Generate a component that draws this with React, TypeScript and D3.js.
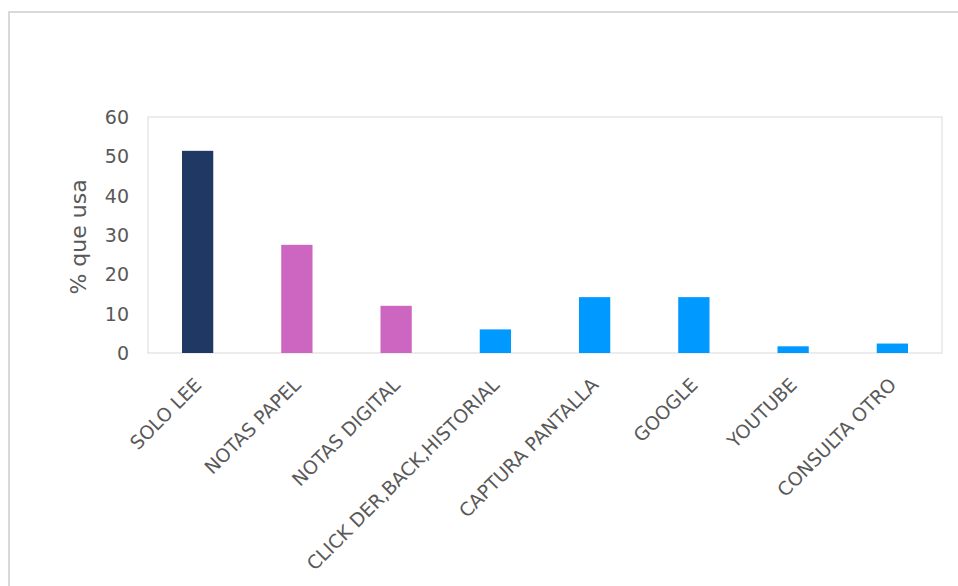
import React from "react";
import * as d3 from "d3";

const categories = [
  "SOLO LEE",
  "NOTAS PAPEL",
  "NOTAS DIGITAL",
  "CLICK DER,BACK,HISTORIAL",
  "CAPTURA PANTALLA",
  "GOOGLE",
  "YOUTUBE",
  "CONSULTA OTRO",
];
const values = [51.4, 27.5, 12, 6, 14.2, 14.2, 1.7, 2.4];
const barColors = ["#203864", "#CC66C0", "#CC66C0", "#0099FF", "#0099FF", "#0099FF", "#0099FF", "#0099FF"];
const yTicks = [0, 10, 20, 30, 40, 50, 60];
const yTitle = "% que usa";

const W = 958;
const H = 586;
const plot = { left: 148, right: 942, top: 117, bottom: 353 };
const FONT = "'DejaVu Sans', sans-serif";
const TEXT = "#595959";

export default function App() {
  const x = d3
    .scaleBand<string>()
    .domain(categories)
    .range([plot.left, plot.right])
    .paddingInner(0.685)
    .paddingOuter(0.3425);
  const y = d3.scaleLinear().domain([0, 60]).range([plot.bottom, plot.top]);

  return (
    <svg
      width={W}
      height={H}
      style={{ position: "fixed", left: 0, top: 0, background: "#fff" }}
    >
      <rect x={0} y={0} width={W} height={H} fill="#fff" />
      <rect x={9} y={12} width={1200} height={1000} fill="#fff" stroke="#d9d9d9" strokeWidth={2} />
      <rect
        x={plot.left}
        y={plot.top}
        width={plot.right - plot.left}
        height={plot.bottom - plot.top}
        fill="none"
        stroke="#d9d9d9"
        strokeWidth={1}
      />
      {categories.map((c, i) => (
        <rect
          key={c}
          x={x(c)!}
          y={y(values[i])}
          width={x.bandwidth()}
          height={y(0) - y(values[i])}
          fill={barColors[i]}
        />
      ))}
      {yTicks.map((t) => (
        <text
          key={t}
          x={129}
          y={y(t)}
          dy="0.36em"
          textAnchor="end"
          fontFamily={FONT}
          fontSize={19}
          fill={TEXT}
        >
          {t}
        </text>
      ))}
      <text
        transform={`translate(86, ${(plot.top + plot.bottom) / 2 + 2}) rotate(-90)`}
        textAnchor="middle"
        fontFamily={FONT}
        fontSize={22}
        fill={TEXT}
      >
        {yTitle}
      </text>
      {categories.map((c) => {
        const cx = x(c)! + x.bandwidth() / 2;
        return (
          <text
            key={c}
            transform={`translate(${cx + 5}, ${386}) rotate(-45)`}
            textAnchor="end"
            fontFamily={FONT}
            fontSize={18.8}
            fill={TEXT}
          >
            {c}
          </text>
        );
      })}
    </svg>
  );
}
